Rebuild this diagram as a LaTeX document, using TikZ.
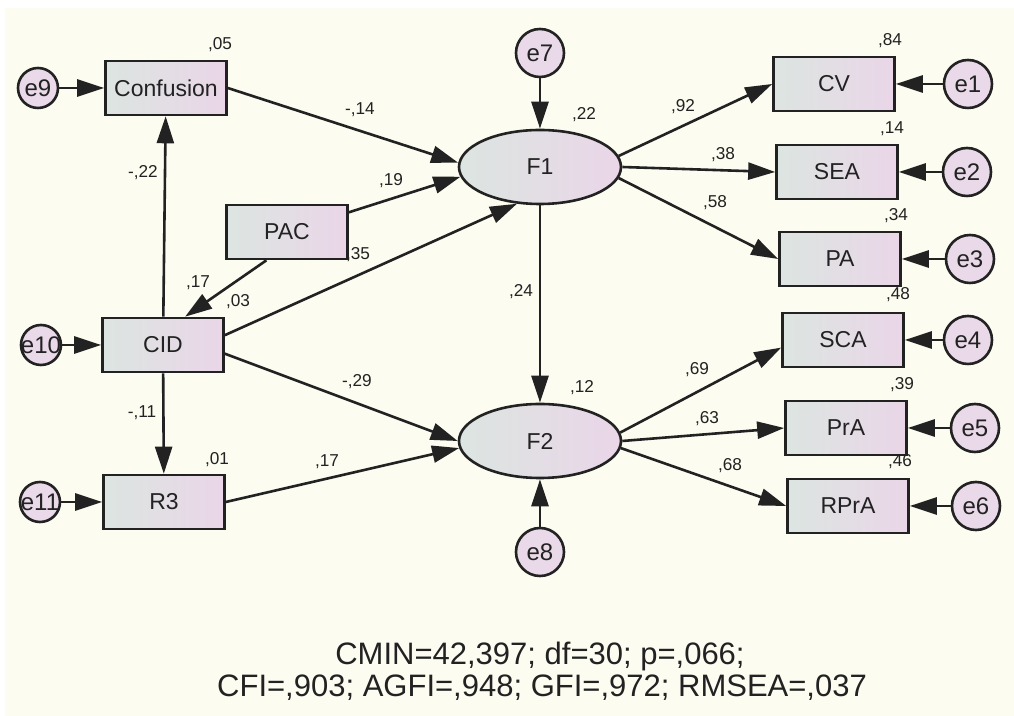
\documentclass[tikz,border=0pt]{standalone}
\usepackage{fontspec}
\setmainfont{Liberation Sans}
\usetikzlibrary{positioning}
\usetikzlibrary{arrows.meta}
\usetikzlibrary{shapes.geometric}
\definecolor{paper}{RGB}{252,252,241}
\definecolor{boxleft}{RGB}{220,229,225}
\definecolor{boxright}{RGB}{234,214,232}
\definecolor{errfill}{RGB}{233,217,233}
\definecolor{ink}{RGB}{34,34,34}
\tikzset{node distance=64pt, % Distance between an error term and its box
obs/.style={ % Observed variables
rectangle,
draw=ink,
line width=1.3pt,
left color=boxleft, right color=boxright,
minimum width=60.5pt, minimum height=27pt,
text=ink,
font=\fontsize{11.5}{13}\selectfont},
lat/.style={ % Latent factors
ellipse,
draw=ink,
line width=1.3pt,
left color=boxleft, right color=boxright,
minimum width=81pt, minimum height=37pt,
text=ink,
font=\fontsize{11.5}{13}\selectfont},
err/.style={ % Error terms
circle,
draw=ink,
line width=1.3pt,
fill=errfill,
minimum size=24pt, inner sep=0pt,
text=ink,
font=\fontsize{12}{14}\selectfont},
smallerr/.style={err, minimum size=20pt},
num/.style={ % Estimates
inner sep=0pt,
text=ink,
font=\fontsize{8.6}{10}\selectfont},
stat/.style={inner sep=0pt, text=ink, font=\fontsize{15.5}{18}\selectfont},
every edge/.style={ % Sets the properties for each path
draw=ink,
-{Triangle[length=13.5pt,width=8.5pt]},
line width=1.3pt}}

\begin{document}
\begin{tikzpicture}[x=1pt, y=1pt]
                \useasboundingbox (-270,83.5) rectangle (237,-274.5);
                \fill[paper] (-267.5,79.5) rectangle (237,-274.5);

                \node[lat] (F1) at (0,0) {F1};
                \node[lat, below of = F1, yshift=-73pt] (F2) {F2};
                \node[err, above of = F1, yshift=-7pt] (e7) {e7};
                \node[err, below of = F2, yshift=8.5pt] (e8) {e8};

                \node[obs] (conf) at (-187,39.5) {Confusion};
                \node[obs] (pac) at (-126.5,-32.5) {PAC};
                \node[obs] (cid) at (-188.5,-89) {CID};
                \node[obs] (r3) at (-188,-167.5) {R3};
                \node[smallerr, left of = conf] (e9) {e9};
                \node[smallerr, left of = cid, xshift=3pt] (e10) {\makebox[0pt]{e10}};
                \node[smallerr, left of = r3, xshift=2pt] (e11) {\makebox[0pt]{e11}};

                \node[obs] (cv) at (147,41.5) {CV};
                \node[obs] (sea) at (148.5,-2.5) {SEA};
                \node[obs] (pa) at (150,-46) {PA};
                \node[obs] (sca) at (151.5,-86.5) {SCA};
                \node[obs] (pra) at (153,-130.5) {PrA};
                \node[obs] (rpra) at (154,-169.5) {RPrA};
                \node[err, right of = cv, xshift=3pt] (e1) {e1};
                \node[err, right of = sea, xshift=1pt] (e2) {e2};
                \node[err, right of = pa, xshift=1pt] (e3) {e3};
                \node[err, right of = sca, xshift=-1.5pt] (e4) {e4};
                \node[err, right of = pra, xshift=0.5pt] (e5) {e5};
                \node[err, right of = rpra] (e6) {e6};

                % squared multiple correlations
                \node[num] (r2conf) at (-160,61) {,05};
                \node[num] (r2cid) at (-151,-67.5) {,03};
                \node[num] (r2rthree) at (-161.5,-146.5) {,01};
                \node[num] (r2fone) at (22,26) {,22};
                \node[num] (r2ftwo) at (21,-110.5) {,12};
                \node[num] (r2cv) at (175,63) {,84};
                \node[num] (r2sea) at (176,19) {,14};
                \node[num] (r2pa) at (178,-24.5) {,34};
                \node[num] (r2sca) at (179,-64) {,48};
                \node[num] (r2pra) at (181,-109) {,39};
                \node[num] (r2rpra) at (180,-147.5) {,46};

                % path coefficients
                \node[num] (bconf) at (-198.5,-3) {-,22};
                \node[num] (bconffone) at (-90,28.5) {-,14};
                \node[num] (bpacfone) at (-74.5,-7) {,19};
                \node[num] (bcidfone) at (-91,-44) {,35};
                \node[num] (bpaccid) at (-171,-58) {,17};
                \node[num] (brthree) at (-199,-123) {-,11};
                \node[num] (brthreeftwo) at (-106.5,-147.5) {,17};
                \node[num] (bcidftwo) at (-91.5,-107.5) {-,29};
                \node[num] (bfoneftwo) at (-9.5,-62.5) {,24};
                \node[num] (bcv) at (71.5,30) {,92};
                \node[num] (bsea) at (91.5,6) {,38};
                \node[num] (bpa) at (87.5,-18) {,58};
                \node[num] (bsca) at (78.5,-101.5) {,69};
                \node[num] (bpra) at (83.5,-126) {,63};
                \node[num] (brpra) at (95,-149.5) {,68};

                \node[stat, anchor=base] (fitone) at (0,-249) {CMIN=42,397; df=30; p=,066;};
                \node[stat, anchor=base] (fittwo) at (1,-265) {CFI=,903; AGFI=,948; GFI=,972; RMSEA=,037};

                \draw (e9) edge (conf)
                (e10) edge (cid)
                (e11) edge (r3)
                (cid) edge (conf)
                (cid) edge (r3)
                (pac.234) edge (cid.52)
                (conf.east) edge (F1.177)
                (pac) edge (F1.187)
                (cid.9) edge (F1.238)
                (cid.352) edge (F2.west)
                (r3.east) edge (F2.185)
                (e7) edge (F1)
                (F1) edge (F2)
                (e8) edge (F2)
                (F1.8) edge (cv.west)
                (F1.east) edge (sea.west)
                (F1.352) edge (pa.west)
                (F2.6) edge (sca.187)
                (F2.east) edge (pra.west)
                (F2.355) edge (rpra.west)
                (e1) edge (cv)
                (e2) edge (sea)
                (e3) edge (pa)
                (e4) edge (sca)
                (e5) edge (pra)
                (e6) edge (rpra);
\end{tikzpicture}
\end{document}
